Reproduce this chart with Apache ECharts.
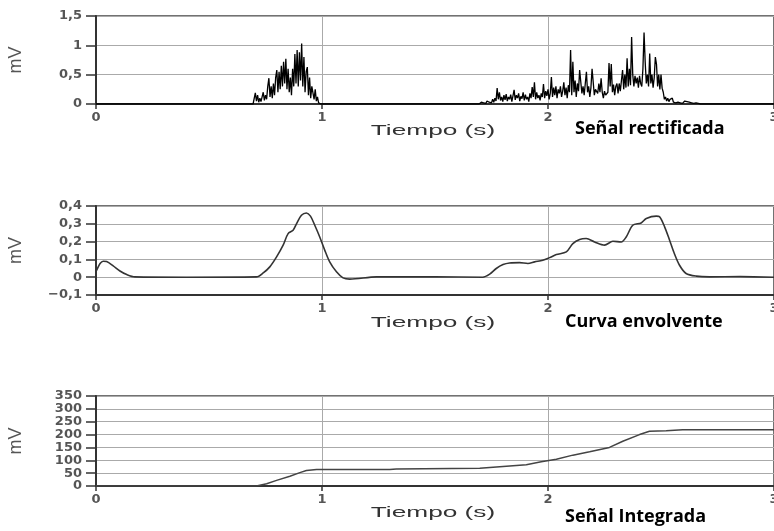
<!DOCTYPE html>
<html>
<head>
<meta charset="utf-8">
<script src="https://cdn.jsdelivr.net/npm/echarts@6/dist/echarts.min.js"></script>
<style>html,body{margin:0;padding:0;background:#fff}#c{width:774px;height:531px}</style>
</head>
<body>
<div id="c"></div>
<script>
// ---------- DATA ----------
const xTicks = ['0', '1', '2', '3'];
const sampleStep = 0.005;

// Señal rectificada (mV), first burst starting at 0.70 s
const rectBurst1Start = 0.70;
const rectBurst1 = [0.02,0.19,0.05,0.15,0.03,0.1,0.04,0.12,0.2,0.06,
  0.15,0.08,0.3,0.44,0.12,0.3,0.1,0.35,0.15,0.45,
  0.58,0.2,0.55,0.25,0.65,0.3,0.72,0.35,0.77,0.25,
  0.6,0.2,0.45,0.15,0.6,0.3,0.85,0.35,0.92,0.3,
  0.88,0.4,1.03,0.3,0.8,0.2,0.55,0.63,0.15,0.45,
  0.1,0.3,0.32,0.08,0.25,0.05,0.12,0.02,0.01];

// second burst starting at 1.70 s
const rectBurst2Start = 1.70;
const rectBurst2 = [0.01,0.03,0.01,0.02,0.04,0.01,0.05,0.02,0.03,0.06,
  0.02,0.08,0.03,0.1,0.05,0.27,0.08,0.2,0.06,0.12,
  0.04,0.15,0.07,0.17,0.05,0.12,0.08,0.16,0.04,0.14,
  0.24,0.07,0.15,0.1,0.18,0.05,0.13,0.09,0.2,0.06,
  0.16,0.08,0.12,0.04,0.18,0.1,0.29,0.12,0.37,0.08,
  0.2,0.1,0.15,0.06,0.18,0.12,0.34,0.1,0.22,0.14,
  0.25,0.08,0.18,0.46,0.12,0.28,0.15,0.3,0.1,0.25,
  0.18,0.3,0.12,0.22,0.37,0.15,0.28,0.1,0.32,0.2,
  0.92,0.15,0.72,0.2,0.4,0.12,0.35,0.22,0.58,0.6,
  0.18,0.3,0.15,0.35,0.55,0.2,0.3,0.12,0.28,0.6,
  0.58,0.15,0.25,0.27,0.18,0.35,0.2,0.44,0.2,0.1,
  0.22,0.15,0.12,0.2,0.7,0.3,0.68,0.2,0.33,0.15,
  0.3,0.35,0.18,0.35,0.22,0.4,0.58,0.25,0.5,0.28,
  0.78,0.3,0.6,0.32,1.14,0.5,0.3,0.48,0.35,0.45,
  0.28,0.48,0.35,0.3,0.6,1.22,0.72,0.35,0.5,0.3,
  0.86,0.35,0.5,0.28,0.45,0.8,0.68,0.3,0.5,0.25,
  0.5,0.27,0.2,0.08,0.12,0.05,0.1,0.04,0.08,0.06,
  0.1,0.03,0.05,0.02,0.04,0.03,0.05,0.02,0.04,0.01,
  0.03,0.05,0.02,0.04,0.01,0.03,0.04,0.02,0.05,0.01,
  0.03,0.02,0.04,0.01,0.02];

// Curva envolvente (mV)
const envTime = [0,0.003,0.018,0.032,0.047,0.076,0.106,0.136,0.172,0.4,0.71,0.74,0.769,0.799,0.828,0.85,0.872,0.887,0.909,0.931,0.949,0.968,0.99,1.012,1.034,1.064,1.093,1.123,1.241,1.5,1.711,1.742,1.771,1.801,1.83,1.874,1.911,1.941,1.977,2.007,2.037,2.081,2.11,2.14,2.169,2.206,2.25,2.287,2.324,2.346,2.375,2.412,2.435,2.479,2.493,2.516,2.538,2.559,2.582,2.611,2.656,2.714,2.85,3.0];
const envValue = [0.035,0.04,0.077,0.09,0.088,0.064,0.035,0.015,0.002,0.0,0.002,0.024,0.058,0.114,0.18,0.245,0.264,0.30,0.348,0.361,0.343,0.292,0.226,0.152,0.086,0.03,-0.004,-0.011,0.002,0.002,0.0,0.017,0.049,0.071,0.08,0.082,0.077,0.086,0.095,0.11,0.127,0.142,0.189,0.212,0.217,0.198,0.18,0.202,0.198,0.226,0.292,0.305,0.33,0.343,0.34,0.283,0.208,0.133,0.067,0.021,0.006,0.002,0.003,0.0];

// Señal integrada
const intTime = [0.71,0.755,0.799,0.858,0.902,0.931,0.976,1.3,1.329,1.698,1.816,1.904,1.97,2.037,2.11,2.184,2.272,2.331,2.405,2.449,2.523,2.596,3.0];
const intValue = [0,9,22,38,52,60,64,64,66,69,77,83,94,104,120,133,150,174,200,213,215,219,219];

// ---------- BUILD ----------
const rectData = [[0,0],[rectBurst1Start - sampleStep,0]];
rectBurst1.forEach((v,i)=>rectData.push([+(rectBurst1Start + i*sampleStep).toFixed(3), v]));
rectData.push([rectBurst1Start + rectBurst1.length*sampleStep, 0]);
rectData.push([rectBurst2Start - sampleStep, 0]);
rectBurst2.forEach((v,i)=>rectData.push([+(rectBurst2Start + i*sampleStep).toFixed(3), v]));
rectData.push([rectBurst2Start + rectBurst2.length*sampleStep, 0]);
rectData.push([3,0]);

const envData = envTime.map((t,i)=>[t, envValue[i]]);
const intData = [[0,0]].concat(intTime.map((t,i)=>[t, intValue[i]]));

const fmt = v => {
  const r = Math.round(v*10)/10;
  return String(r).replace('.', ',').replace('-', '\u2212');
};

const chart = echarts.init(document.getElementById('c'));
const grids = [
  {left:96, right:0, top:16, height:88},
  {left:96, right:0, top:206, height:89},
  {left:96, right:0, top:396, height:90}
].map(g => Object.assign(g, {show:true, borderColor:'#444', borderWidth:1.5, backgroundColor:'#fff', outerBoundsMode:'none', containLabel:false}));

const xAxisBase = i => ({
  type:'value', gridIndex:i, min:0, max:3, interval:1,
  axisLine:{show:true, onZero:false, lineStyle:{color:'#333', width:2}},
  axisTick:{show:true, length:5, lineStyle:{color:'#333', width:1.5}},
  axisLabel:{margin:7, color:'#555', fontWeight:'bold', fontSize:13, fontFamily:'DejaVu Sans', showMinLabel:true, showMaxLabel:true, hideOverlap:false,
    formatter: v => xTicks[Math.round(v)]},
  splitLine:{show:true, lineStyle:{color:'#aaa', width:1}}
});
const yAxisBase = (i, min, max, interval) => ({
  type:'value', gridIndex:i, min, max, interval,
  name:'mV', nameLocation:'middle', nameGap:71, nameRotate:90,
  nameTextStyle:{fontSize:18, color:'#555', fontFamily:'Liberation Sans'},
  axisLine:{show:true, lineStyle:{color:'#333', width:2}},
  axisTick:{show:true, length:10, lineStyle:{color:'#333', width:1.5}},
  axisLabel:{margin:14, color:'#555', fontWeight:'bold', fontSize:13, fontFamily:'DejaVu Sans', formatter: fmt},
  splitLine:{show:true, lineStyle:{color:'#aaa', width:1}}
});

const tiempo = y => ({type:'text', x:433, y, scaleX:1.75, z:100,
  style:{text:'Tiempo (s)', fontSize:15, fontFamily:'Liberation Sans', fill:'#333', align:'center', verticalAlign:'middle'}});
const title = (x, y, text) => ({type:'text', x, y, z:100,
  style:{text, fontSize:18, fontWeight:'bold', fontFamily:'Open Sans', fill:'#000', align:'left', verticalAlign:'middle'}});

chart.setOption({
  animation:false,
  backgroundColor:'#fff',
  grid: grids,
  xAxis:[xAxisBase(0), xAxisBase(1), xAxisBase(2)],
  yAxis:[yAxisBase(0,0,1.5,0.5), yAxisBase(1,-0.1,0.4,0.1), yAxisBase(2,0,350,50)],
  series:[
    {type:'line', xAxisIndex:0, yAxisIndex:0, data:rectData, showSymbol:false, lineStyle:{color:'#000', width:1.3}, z:5},
    {type:'line', xAxisIndex:1, yAxisIndex:1, data:envData, showSymbol:false, smooth:0.3, lineStyle:{color:'#333', width:1.6}, z:5},
    {type:'line', xAxisIndex:2, yAxisIndex:2, data:intData, showSymbol:false, lineStyle:{color:'#444', width:1.5}, z:5}
  ],
  graphic:[
    tiempo(131), tiempo(323), tiempo(513),
    title(575, 129, 'Señal rectificada'),
    title(565, 322, 'Curva envolvente'),
    title(565, 517, 'Señal Integrada')
  ]
});
</script>
</body>
</html>
